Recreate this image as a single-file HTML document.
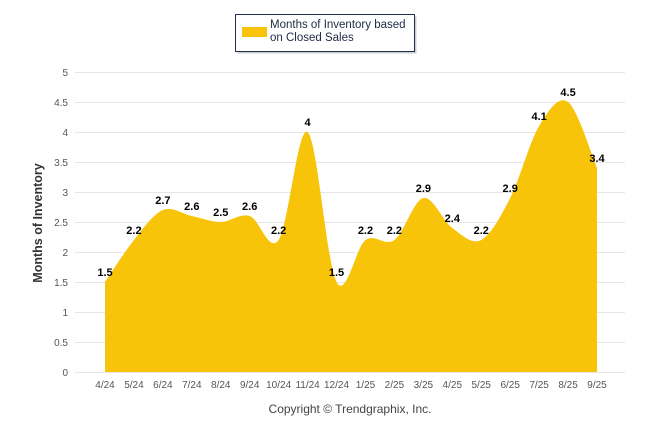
<!DOCTYPE html>
<html><head><meta charset="utf-8"><style>
body{margin:0;background:#fff;font-family:"Liberation Sans",sans-serif}
svg{display:block}
</style></head><body>
<svg width="646" height="434" id="c">
<g>
<rect x="237.5" y="16.5" width="179" height="37" fill="#999" opacity="0.5"/>
<rect x="235.5" y="14.5" width="179" height="37" fill="#fff" stroke="#1f3050" stroke-width="1"/>
<rect x="242" y="27" width="25" height="10" fill="#f7c40a"/>
<text x="270" y="28" font-size="11.5" fill="#1f2a44">Months of Inventory based</text>
<text x="270" y="41" font-size="11.5" fill="#1f2a44">on Closed Sales</text>
</g>
<g id="grid"></g>
<path id="area" fill="#f7c40a"/>
<g id="labels"></g>
<text transform="translate(42,223) rotate(-90)" text-anchor="middle" font-size="12.5" font-weight="bold" fill="#333">Months of Inventory</text>
<text x="350" y="413" text-anchor="middle" font-size="12" fill="#444">Copyright © Trendgraphix, Inc.</text>
</svg>
<script>
const categories=["4/24","5/24","6/24","7/24","8/24","9/24","10/24","11/24","12/24","1/25","2/25","3/25","4/25","5/25","6/25","7/25","8/25","9/25"];
const values=[1.5,2.2,2.7,2.6,2.5,2.6,2.2,4,1.5,2.2,2.2,2.9,2.4,2.2,2.9,4.1,4.5,3.4];
const yTicks=[0,0.5,1,1.5,2,2.5,3,3.5,4,4.5,5];
const NS="http://www.w3.org/2000/svg";
const x=i=>105+i*(597-105)/(categories.length-1);
const y=v=>372-v*60;
const grid=document.getElementById('grid'),lab=document.getElementById('labels');
function mk(tag,attrs,parent){const e=document.createElementNS(NS,tag);for(const k in attrs)e.setAttribute(k,attrs[k]);parent.appendChild(e);return e;}
yTicks.forEach(t=>{
 const l=mk('line',{x1:75,x2:625,y1:y(t)+0.5,y2:y(t)+0.5,stroke:'#e6e6e6'},grid);
 
 
 const tx=mk('text',{x:68,y:y(t)+4,'text-anchor':'end','font-size':'10',fill:'#555'},grid);
 tx.textContent=t;
 
 
});
categories.forEach((c,i)=>{
 const tx=mk('text',{x:x(i),y:388,'text-anchor':'middle','font-size':'10',fill:'#555'},grid);
 tx.textContent=c;
 
 
});
const pts=values.map((v,i)=>[x(i),y(v)]);
let d=`M${pts[0][0]},${y(0)} L${pts[0][0]},${pts[0][1]}`;
for(let i=0;i<pts.length-1;i++){
 const p0=pts[Math.max(0,i-1)],p1=pts[i],p2=pts[i+1],p3=pts[Math.min(pts.length-1,i+2)];
 const t=1/6;
 const c1=[p1[0]+(p2[0]-p0[0])*t,p1[1]+(p2[1]-p0[1])*t];
 const c2=[p2[0]-(p3[0]-p1[0])*t,p2[1]-(p3[1]-p1[1])*t];
 d+=` C${c1[0]},${c1[1]} ${c2[0]},${c2[1]} ${p2[0]},${p2[1]}`;
}
d+=` L${pts[pts.length-1][0]},${y(0)} Z`;
document.getElementById('area').setAttribute('d',d);
values.forEach((v,i)=>{
 const tx=mk('text',{x:x(i),y:y(v)-6,'text-anchor':'middle','font-size':'11','font-weight':'bold',fill:'#000'},lab);
 tx.textContent=v;
 
 
});
</script>
</body></html>
